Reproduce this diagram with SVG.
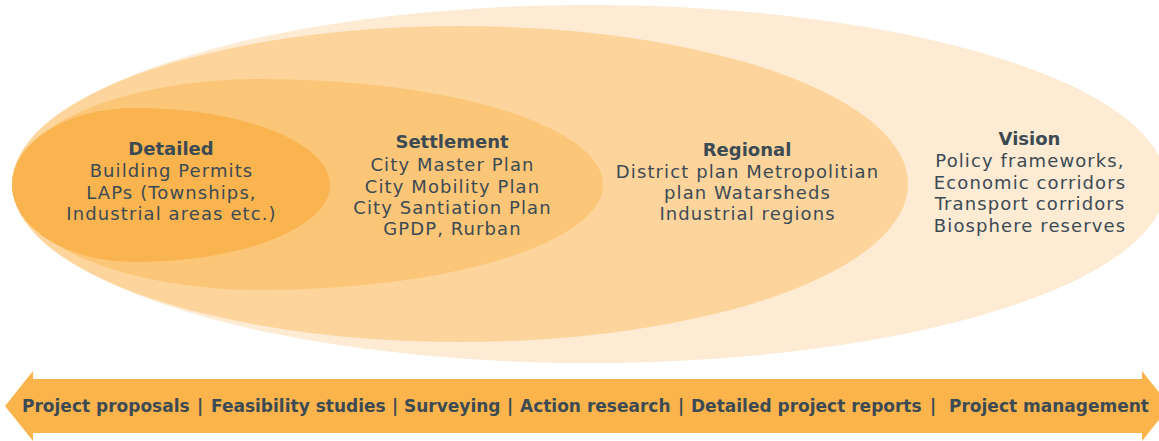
<svg xmlns="http://www.w3.org/2000/svg" width="1159" height="441" viewBox="0 0 1159 441">
  <style>
    .t { font-family: "DejaVu Sans", "Liberation Sans", sans-serif; fill: #3c4a54; text-anchor: middle; }
    .body { font-size: 18px; letter-spacing: 1.1px; }
    .head { font-size: 18px; font-weight: bold; }
    .bar { font-family: "DejaVu Sans", "Liberation Sans", sans-serif; font-size: 17px; font-weight: bold; fill: #3c4a54; }
    .mid { text-anchor: middle; }
  </style>
  <rect width="1159" height="441" fill="#ffffff"/>

  <g id="vision">
    <ellipse cx="590" cy="184" rx="576" ry="179" fill="#fdebd3"/>
    <text class="t head" x="1029.5" y="145">Vision</text>
    <text class="t body" x="1030" y="167">Policy frameworks,</text>
    <text class="t body" x="1030" y="189">Economic corridors</text>
    <text class="t body" x="1030" y="210">Transport corridors</text>
    <text class="t body" x="1030" y="232">Biosphere reserves</text>
  </g>

  <g id="regional">
    <ellipse cx="460" cy="184" rx="448" ry="158" fill="#fdd59c"/>
    <text class="t head" x="747" y="156">Regional</text>
    <text class="t body" x="747.5" y="178">District plan Metropolitian</text>
    <text class="t body" x="747.5" y="199">plan Watarsheds</text>
    <text class="t body" x="747.5" y="220">Industrial regions</text>
  </g>

  <g id="settlement">
    <path d="M12,184.5 A248,105.5 0 0 1 260,79 A343,105.5 0 0 1 603,184.5 A343,105.5 0 0 1 260,290 A248,105.5 0 0 1 12,184.5 Z" fill="#fbc677"/>
    <text class="t head" x="452" y="148">Settlement</text>
    <text class="t body" x="452.5" y="171">City Master Plan</text>
    <text class="t body" x="452.5" y="193">City Mobility Plan</text>
    <text class="t body" x="452.5" y="214">City Santiation Plan</text>
    <text class="t body" x="452.5" y="235">GPDP, Rurban</text>
  </g>

  <g id="detailed">
    <path d="M12,185 A122,77 0 0 1 134,108 A196,77 0 0 1 330,185 A196,77 0 0 1 134,262 A122,77 0 0 1 12,185 Z" fill="#f9b44f"/>
    <text class="t head" x="171" y="155">Detailed</text>
    <text class="t body" x="171.5" y="177">Building Permits</text>
    <text class="t body" x="171.5" y="199">LAPs (Townships,</text>
    <text class="t body" x="171.5" y="220">Industrial areas etc.)</text>
  </g>

  <g id="connectors">
    <path id="scale-arrow" d="M5,406 L33,371 L33,379 L1142,379 L1142,371 L1170,406 L1142,441 L1142,433 L33,433 L33,441 Z" fill="#fbb44c"/>
    <g id="scale-labels">
      <text class="bar" x="22" y="412">Project proposals</text>
      <text class="bar mid" x="200" y="412">|</text>
      <text class="bar" x="211" y="412">Feasibility studies</text>
      <text class="bar mid" x="395" y="412">|</text>
      <text class="bar" x="404" y="412">Surveying</text>
      <text class="bar mid" x="510" y="412">|</text>
      <text class="bar" x="520" y="412">Action research</text>
      <text class="bar mid" x="681" y="412">|</text>
      <text class="bar" x="691" y="412">Detailed project reports</text>
      <text class="bar mid" x="933" y="412">|</text>
      <text class="bar" x="949" y="412">Project management</text>
    </g>
  </g>
</svg>
